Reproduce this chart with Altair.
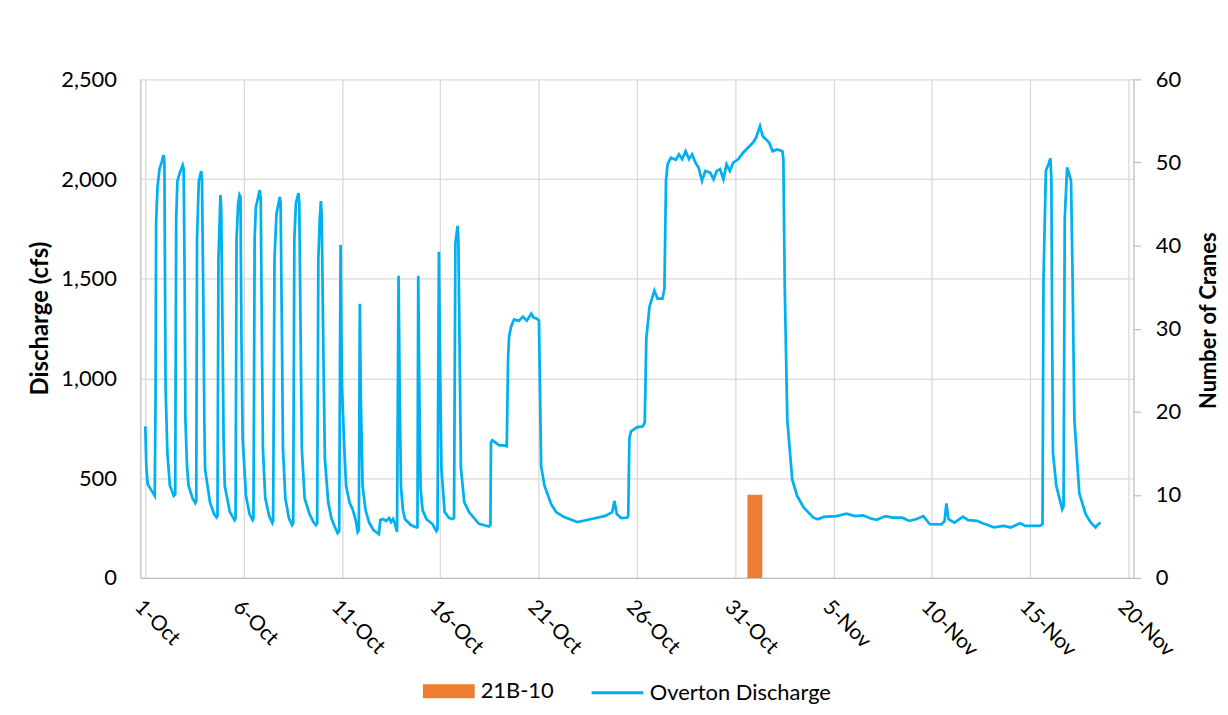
import altair as alt
import pandas as pd

# ---- data ----
start_date = "2022-10-01"
tick_dates = ["2022-10-01", "2022-10-06", "2022-10-11", "2022-10-16", "2022-10-21",
              "2022-10-26", "2022-10-31", "2022-11-05", "2022-11-10", "2022-11-15", "2022-11-20"]

# Overton discharge: days since 1-Oct and discharge (cfs)
flow_day = [
    0.00, 0.05, 0.12, 0.30, 0.48, 0.52, 0.55, 0.62, 0.72, 0.85, 0.92, 0.97, 1.03, 1.12, 1.25, 1.45,
    1.52, 1.57, 1.63, 1.75, 1.90, 1.95, 2.00, 2.04, 2.12, 2.20, 2.40, 2.54,
    2.59, 2.63, 2.72, 2.84, 2.88, 2.95, 3.00, 3.04, 3.29, 3.50, 3.62,
    3.67, 3.72, 3.82, 3.86, 3.92, 3.98, 4.04, 4.30, 4.54,
    4.59, 4.64, 4.72, 4.79, 4.84, 4.89, 4.95, 5.12, 5.30, 5.46,
    5.50, 5.56, 5.62, 5.82, 5.87, 5.93, 5.98, 6.10, 6.30, 6.46,
    6.50, 6.57, 6.67, 6.84, 6.88, 6.95, 7.00, 7.12, 7.30, 7.46,
    7.52, 7.58, 7.66, 7.79, 7.83, 7.90, 7.96, 8.10, 8.35, 8.55, 8.68,
    8.74, 8.80, 8.87, 8.93, 8.97, 9.06, 9.13, 9.30, 9.46, 9.62, 9.78,
    9.86, 9.93, 10.00, 10.13, 10.21, 10.38, 10.54, 10.70, 10.80,
    10.86, 10.91, 10.96, 11.05, 11.20, 11.38, 11.60, 11.88,
    11.95, 12.10, 12.25, 12.40, 12.50, 12.60, 12.70, 12.80,
    12.88, 12.94, 13.00, 13.10, 13.21, 13.50, 13.80,
    13.84, 13.88, 13.94, 14.00, 14.10, 14.30, 14.60, 14.80,
    14.86, 14.93, 15.00, 15.06, 15.22, 15.45, 15.63,
    15.70, 15.77, 15.88, 15.92, 15.99, 16.05, 16.22, 16.47, 16.97, 17.47,
    17.55, 17.58, 17.65, 17.80, 18.00, 18.20, 18.38,
    18.45, 18.50, 18.60, 18.75, 19.00, 19.20, 19.40, 19.63, 19.75, 19.92, 20.02,
    20.08, 20.13, 20.30, 20.64, 20.89, 21.30, 21.97, 22.64, 23.39,
    23.75, 23.86, 23.98, 24.20, 24.50,
    24.56, 24.62, 24.70, 25.00, 25.30,
    25.40, 25.48, 25.64, 25.89, 26.05, 26.30,
    26.40, 26.48, 26.56, 26.73, 26.98, 27.14, 27.30, 27.48, 27.65, 27.81, 27.98,
    28.14, 28.31, 28.48, 28.73, 28.90, 29.06, 29.23, 29.40, 29.56, 29.73, 29.90,
    30.15, 30.40, 30.65, 30.90, 31.06, 31.26, 31.40, 31.57, 31.73, 31.90, 32.15, 32.40,
    32.45, 32.52, 32.65, 32.90, 33.15, 33.48, 33.98,
    34.20, 34.50, 35.15, 35.65, 36.10, 36.50, 36.90, 37.20, 37.65, 38.00, 38.50,
    38.85, 39.20, 39.57, 39.90, 40.50, 40.65, 40.74, 40.85, 41.15, 41.58, 41.85,
    42.30, 42.58, 42.85, 43.16, 43.66, 44.00, 44.50, 44.75, 45.50,
    45.63, 45.68, 45.80, 45.95, 46.03, 46.08, 46.11, 46.16, 46.33, 46.63,
    46.70, 46.76, 46.88, 47.00, 47.08, 47.16, 47.25, 47.50, 47.83, 48.08, 48.33, 48.45, 48.58,
]
flow_cfs = [
    760, 560, 470, 440, 412, 900, 1790, 1960, 2050, 2090, 2120, 2090, 960, 630, 462, 412,
    420, 1800, 1990, 2030, 2070, 2050, 1500, 793, 560, 462, 400, 375,
    385, 1700, 1990, 2040, 2000, 1400, 800, 544, 378, 320, 303,
    310, 1600, 1920, 1850, 1300, 700, 462, 330, 290,
    300, 1700, 1875, 1920, 1910, 1200, 700, 411, 320, 290,
    300, 1700, 1858, 1945, 1900, 1200, 650, 400, 310, 275,
    285, 1600, 1825, 1910, 1880, 1200, 650, 400, 300, 265,
    275, 1700, 1880, 1930, 1880, 1200, 650, 400, 320, 280, 265,
    275, 1600, 1800, 1890, 1820, 1100, 600, 380, 300, 260, 225,
    235, 1670, 960, 630, 462, 380, 345, 290, 230,
    240, 1375, 900, 462, 340, 278, 240, 220,
    290, 295, 285, 300, 280, 295, 270, 230,
    1515, 900, 460, 340, 294, 265, 253,
    255, 1515, 900, 450, 340, 294, 270, 235,
    245, 1635, 1000, 550, 330, 300, 295,
    300, 1678, 1765, 1700, 1100, 550, 380, 329, 271, 258,
    265, 678, 690, 680, 665, 665, 660,
    1100, 1210, 1260, 1295, 1290, 1310, 1290, 1325, 1305, 1300, 1290,
    900, 560, 462, 370, 330, 305, 280, 294, 311,
    330, 386, 320, 300, 302,
    310, 700, 735, 755, 760,
    780, 1200, 1360, 1440, 1400, 1400,
    1450, 1991, 2074, 2107, 2097, 2124, 2100, 2140, 2100, 2124, 2082,
    2057, 1991, 2041, 2032, 1999, 2041, 2050, 1999, 2074, 2041, 2082,
    2099, 2132, 2157, 2182, 2207, 2265, 2215, 2199, 2182, 2140, 2149, 2140,
    2100, 1459, 793, 494, 411, 353, 302,
    294, 306, 310, 322, 310, 314, 298, 291, 310, 302, 302,
    286, 294, 310, 269, 268, 286, 374, 294, 277, 307, 290,
    286, 274, 265, 253, 261, 253, 274, 261, 261,
    270, 1500, 2041, 2080, 2104, 2000, 1400, 627, 462, 344,
    360, 1800, 2058, 2020, 1990, 1500, 793, 424, 318, 278, 253, 268, 278,
]
flow_name = "Overton Discharge"

# Crane observations
crane_dates = ["2022-11-01"]
crane_counts = [10]
crane_site = ["21B-10"]

# ---- tables ----
t0 = pd.Timestamp(start_date)
flow = pd.DataFrame({
    "time": t0 + pd.to_timedelta(flow_day, unit="D"),
    "cfs": flow_cfs,
    "series": flow_name,
})
cranes = pd.DataFrame({
    "date": pd.to_datetime(crane_dates),
    "count": crane_counts,
    "series": crane_site,
})


def dt(s):
    d = pd.Timestamp(s)
    return alt.DateTime(year=d.year, month=d.month, date=d.day)


x_scale = alt.Scale(domain=[dt(tick_dates[0]), dt(tick_dates[-1])])
FONT = "Lato"
GRID = "#D9D9D9"
AXIS = "#BFBFBF"

x_axis = alt.Axis(
    values=[dt(s) for s in tick_dates], format="%-d-%b", title=None,
    labelAngle=45, labelAlign="left", labelBaseline="top", labelPadding=18,
    labelFontSize=21, labelOverlap=False, labelFlush=False,
    ticks=False, tickSize=0, grid=True, gridColor=GRID, gridWidth=1.3,
    domainColor=AXIS, domainWidth=1.3,
)

bars = alt.Chart(cranes).mark_bar(size=15).encode(
    x=alt.X("date:T", scale=x_scale, axis=x_axis),
    y=alt.Y("count:Q", scale=alt.Scale(domain=[0, 60]),
            axis=alt.Axis(orient="right", values=[0, 10, 20, 30, 40, 50, 60],
                          title="Number of Cranes", grid=False,
                          tickSize=7, tickColor=AXIS, tickWidth=1.3,
                          domainColor=AXIS, domainWidth=1.3,
                          labelPadding=15, labelFontSize=22,
                          titleFontSize=22, titleFontWeight="bold",
                          titleX=75, titleY=242, titleBaseline="middle", titleAngle=-90)),
    color=alt.Color("series:N", scale=alt.Scale(range=["#ED7D31"]),
                    legend=alt.Legend(orient="none", legendX=284, legendY=589, title=None,
                                      symbolType="M-1,-0.27H1V0.27H-1Z", symbolSize=2704,
                                      symbolStrokeWidth=0, labelOffset=6, padding=0,
                                      labelFontSize=22, labelLimit=400)),
)

line = alt.Chart(flow).mark_line(strokeWidth=2.75, interpolate="linear").encode(
    x=alt.X("time:T", scale=x_scale, axis=x_axis),
    y=alt.Y("cfs:Q", scale=alt.Scale(domain=[0, 2500]),
            axis=alt.Axis(orient="left", values=[0, 500, 1000, 1500, 2000, 2500],
                          format=",.0f", title="Discharge (cfs)", grid=True,
                          gridColor=GRID, gridWidth=1.3,
                          ticks=False, tickSize=0, labelPadding=24, labelFontSize=22,
                          domainColor=AXIS, domainWidth=1.3,
                          titleFontSize=24, titleFontWeight="bold",
                          titleX=-100, titleY=240, titleBaseline="middle", titleAngle=-90)),
    stroke=alt.Stroke("series:N", scale=alt.Scale(range=["#00B0F0"]),
                      legend=alt.Legend(orient="none", legendX=452, legendY=589, title=None,
                                        symbolType="stroke", symbolSize=2704,
                                        symbolStrokeWidth=3, labelOffset=5, padding=0,
                                        labelFontSize=22, labelLimit=400)),
)

chart = alt.layer(bars, line).resolve_scale(
    y="independent", color="independent"
).properties(
    width=998, height=501,
    autosize=alt.AutoSizeParams(type="none"),
    padding={"left": 133, "top": 70, "right": 87, "bottom": 125},
    background="white",
).configure_view(stroke=None).configure_axis(
    labelFont=FONT, titleFont=FONT, labelColor="#000000", titleColor="#000000",
).configure_legend(labelFont=FONT, labelColor="#000000")

chart.save("out.html", embed_options={"renderer": "svg", "actions": False})
